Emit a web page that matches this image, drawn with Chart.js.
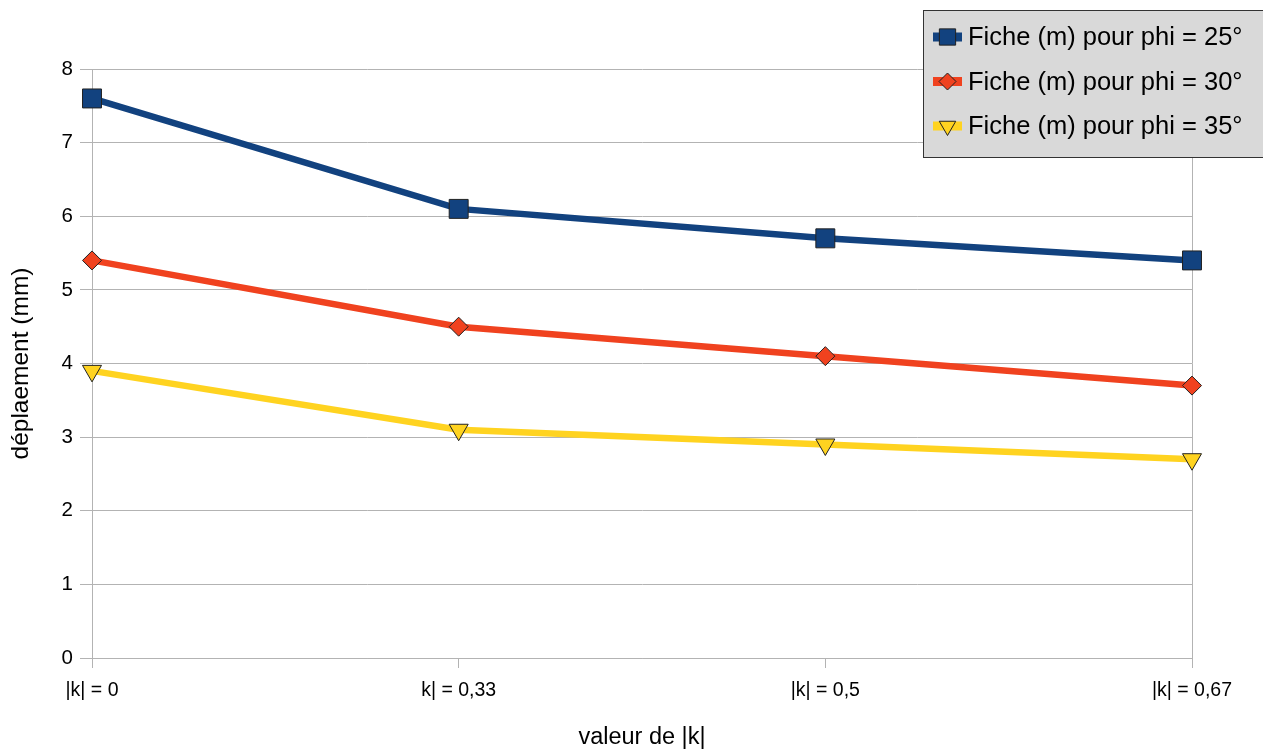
<!DOCTYPE html>
<html>
<head>
<meta charset="utf-8">
<script src="https://cdn.jsdelivr.net/npm/chart.js"></script>
<style>
  html, body { margin: 0; padding: 0; background: #fff; }
  #wrap { width: 1263px; height: 749px; position: relative; }
</style>
</head>
<body>
<div id="wrap"><canvas id="chart"></canvas></div>
<script>
// données
const categories = ['|k| = 0', 'k| = 0,33', '|k| = 0,5', '|k| = 0,67'];
const phi25 = [7.6, 6.1, 5.7, 5.4];
const phi30 = [5.4, 4.5, 4.1, 3.7];
const phi35 = [3.9, 3.1, 2.9, 2.7];
const seriesLabels = ['Fiche (m) pour phi = 25°', 'Fiche (m) pour phi = 30°', 'Fiche (m) pour phi = 35°'];
const yTicks = [0, 1, 2, 3, 4, 5, 6, 7, 8];

const FONT = 'Liberation Sans, Arial, sans-serif';
const GRID = '#b3b3b3';

// légende dessinée à la main (boîte grise en haut à droite)
const legendBox = {
    id: 'legendBox',
    afterDraw(chart) {
        const ctx = chart.ctx;
        ctx.save();
        ctx.fillStyle = '#d9d9d9';
        ctx.strokeStyle = '#333';
        ctx.lineWidth = 1;
        ctx.fillRect(923.5, 10.5, 350, 147);
        ctx.strokeRect(923.5, 10.5, 350, 147);
        chart.data.datasets.forEach((ds, i) => {
            const y = 37 + i * 44.5;
            ctx.fillStyle = ds.borderColor;
            ctx.fillRect(933, y - 4.5, 29, 9);
            ctx.fillStyle = ds.pointBackgroundColor;
            ctx.strokeStyle = '#222';
            ctx.lineWidth = 1;
            Chart.helpers.drawPoint(ctx, {
                pointStyle: ds.pointStyle,
                radius: ds.legendRadius,
                rotation: ds.rotation || 0,
                borderWidth: 1
            }, 947.5, y);
            ctx.fillStyle = '#000';
            ctx.font = '25.5px ' + FONT;
            ctx.textBaseline = 'middle';
            ctx.textAlign = 'left';
            ctx.fillText(ds.label, 968, y + 1);
        });
        ctx.restore();
    }
};

new Chart(document.getElementById('chart'), {
    type: 'line',
    data: {
        labels: categories,
        datasets: [{
            label: seriesLabels[0],
            data: phi25,
            borderColor: '#12427f',
            pointBackgroundColor: '#12427f',
            pointStyle: 'rect',
            pointRadius: 13.4,
            legendRadius: 11.5,
            borderWidth: 6.5
        }, {
            label: seriesLabels[1],
            data: phi30,
            borderColor: '#f0421f',
            pointBackgroundColor: '#f0421f',
            pointStyle: 'rectRot',
            pointRadius: 9.5,
            legendRadius: 8.5,
            borderWidth: 6.5
        }, {
            label: seriesLabels[2],
            data: phi35,
            borderColor: '#ffd320',
            pointBackgroundColor: '#ffd320',
            pointStyle: 'triangle',
            rotation: 180,
            pointRotation: 180,
            pointRadius: 11,
            legendRadius: 9.5,
            borderWidth: 6.5
        }].map(ds => Object.assign(ds, {
            pointBorderColor: '#222',
            pointBorderWidth: 1,
            tension: 0,
            fill: false
        }))
    },
    plugins: [legendBox],
    options: {
        responsive: true,
        maintainAspectRatio: false,
        animation: false,
        layout: { padding: { top: 69, right: 71, left: 0, bottom: 0 } },
        plugins: {
            legend: { display: false },
            tooltip: { enabled: false }
        },
        scales: {
            x: {
                offset: false,
                afterFit: s => { s.height = 91; },
                grid: {
                    color: c => (c.index === 0 || c.index === categories.length - 1) ? GRID : 'rgba(0,0,0,0)',
                    tickColor: GRID,
                    tickLength: 10,
                    lineWidth: 1
                },
                border: { color: GRID },
                ticks: {
                    color: '#000',
                    font: { family: FONT, size: 19.5 },
                    padding: 11,
                    maxRotation: 0,
                    autoSkip: false
                },
                title: {
                    display: true,
                    text: 'valeur de |k|',
                    color: '#000',
                    font: { family: FONT, size: 23.5 },
                    padding: { top: 0, bottom: -3 }
                }
            },
            y: {
                min: 0,
                max: 8,
                afterFit: s => { s.width = 92; },
                afterBuildTicks: s => { s.ticks = yTicks.map(v => ({ value: v })); },
                grid: {
                    color: GRID,
                    tickColor: GRID,
                    tickLength: 12,
                    lineWidth: 1
                },
                border: { color: GRID },
                ticks: {
                    color: '#000',
                    font: { family: FONT, size: 20.5 },
                    padding: 7
                },
                title: {
                    display: true,
                    text: 'déplaement (mm)',
                    color: '#000',
                    font: { family: FONT, size: 24.5 },
                    padding: { top: 7, bottom: 0 }
                }
            }
        }
    }
});
</script>
</body>
</html>
